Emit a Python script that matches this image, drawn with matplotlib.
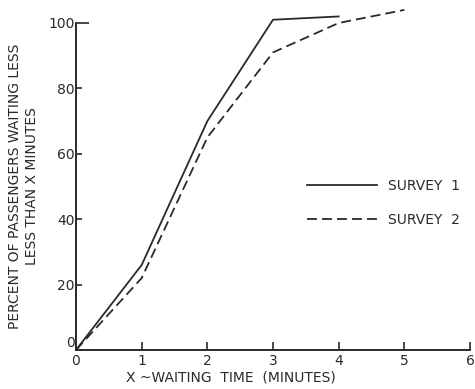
import matplotlib
matplotlib.use("Agg")
import matplotlib.pyplot as plt

minutes = [0, 1, 2, 3, 4, 5]
survey1 = [0, 26, 70, 101, 102]
survey2 = [0, 22, 65, 91, 100, 104]
xticks = [0, 1, 2, 3, 4, 5, 6]
yticks = [0, 20, 40, 60, 80, 100]
labels = ["SURVEY  1", "SURVEY  2"]

plt.rcParams['font.family'] = ['DejaVu Sans']
ink = '#2a2a2a'

fig = plt.figure(figsize=(4.75, 3.89), dpi=100)
ax = fig.add_axes([76/475, 1-350/389, 394/475, 327/389])

ax.plot(minutes[:len(survey1)], survey1, color=ink, lw=1.3, clip_on=False, label=labels[0])
ax.plot(minutes[:len(survey2)], survey2, color=ink, lw=1.3, dashes=(5.5, 2.8),
        clip_on=False, label=labels[1])

ax.set_xlim(0, 6)
ax.set_ylim(0, 100)
for s in ['top', 'right']:
    ax.spines[s].set_visible(False)
for s in ['left', 'bottom']:
    ax.spines[s].set_linewidth(1.4)
    ax.spines[s].set_color(ink)

ax.set_xticks(xticks)
ax.set_yticks(yticks)
ax.tick_params(axis='x', direction='in', length=6, width=1.2, pad=3,
               labelsize=10, colors=ink)
ax.tick_params(axis='y', direction='in', length=4.5, width=1.2, pad=1,
               labelsize=10, colors=ink)
ytk = ax.yaxis.get_major_ticks()
ytk[-1].tick1line.set_markersize(9)
# lift the y-axis "0" a touch so it sits beside, not on, the x-axis "0"
ytk[0].label1.set_va('bottom')

ax.set_ylabel("PERCENT OF PASSENGERS WAITING LESS\nLESS THAN X MINUTES",
              fontsize=10, color=ink, linespacing=1.25)
ax.yaxis.set_label_coords(-0.094, 0.5)
ax.set_xlabel("X ~WAITING  TIME  (MINUTES)", fontsize=10, color=ink, va='top')
ax.xaxis.set_label_coords(0.393, -0.064)

ax.legend(loc='center left', bbox_to_anchor=(0.555, 0.45), frameon=False,
          handlelength=5.0, handletextpad=0.8, labelspacing=1.4,
          fontsize=10, labelcolor=ink)

fig.savefig("out.png", dpi=100)
